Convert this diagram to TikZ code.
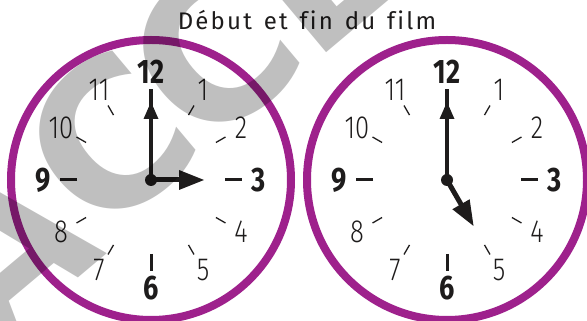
\documentclass[tikz,border=0pt]{standalone}
\usepackage{fontspec}
\setmainfont{Fira Sans}
\newfontfamily\titlefont{Fira Sans}[LetterSpace=9, WordSpace=1.4, Ligatures=NoCommon]
\newfontfamily\boldnumfont{Fira Sans}[FakeStretch=0.8]
\newfontfamily\thinnumfont{Fira Sans Light}[FakeStretch=0.8]
\newfontfamily\wmfont{DejaVu Sans}
\usetikzlibrary{calc}
\definecolor{rimpurple}{RGB}{158,33,140}
\definecolor{inkblack}{RGB}{30,28,28}

\begin{document}
\begin{tikzpicture}[x=1pt,y=1pt,
  rim/.style={draw=rimpurple, line width=8pt},
  bignum/.style={font=\fontsize{34}{34}\selectfont\boldnumfont\bfseries, text=inkblack, inner sep=0pt},
  thinnum/.style={font=\fontsize{32}{32}\selectfont\thinnumfont, text=inkblack, inner sep=0pt},
  majtick/.style={line width=3pt, inkblack},
  mintick/.style={line width=1.3pt, inkblack},
  hand/.style={line width=5pt, inkblack},
  wmark/.style={font=\fontsize{200}{200}\selectfont\wmfont\bfseries, opacity=0.25, inner sep=0pt, rotate=40}]
  \useasboundingbox (0,0) rectangle (587,321);
  \clip (0,0) rectangle (587,321);

  % title
  \node[font=\fontsize{24}{24}\selectfont\titlefont, text=inkblack] (title) at (307,301) {Début et fin du film};

  % the two clocks: start 3 o'clock, end 5 o'clock
  \foreach \cx/\hr/\nm in {151/0/start, 447/-60/end} {
    \coordinate (\nm) at (\cx,141);
    \draw[rim] (\nm) circle (140);
    % ticks and numbers
    \foreach \h in {3,6,9,12} {
      \draw[majtick, shift={(\nm)}] (90-30*\h:74) -- (90-30*\h:91);
      \node[bignum] (\nm-\h) at ($(\nm)+(90-30*\h:108)$) {\h};
    }
    \foreach \h in {1,2,4,5,7,8,10,11} {
      \draw[mintick, shift={(\nm)}] (90-30*\h:75) -- (90-30*\h:86);
      \node[thinnum] (\nm-\h) at ($(\nm)+(90-30*\h:104)$) {\h};
    }
    % minute hand
    \draw[hand, line width=4.5pt] (\nm) -- ++(90:91);
    \fill[inkblack, shift={(\nm)}, rotate=90] (78,0) -- (61,7.5) -- (61,-7.5) -- cycle;
    % hour hand
    \draw[hand, shift={(\nm)}] (0,0) -- (\hr:32);
    \fill[inkblack, shift={(\nm)}, rotate=\hr] (53,0) -- (28,10) -- (28,-10) -- cycle;
    \fill[inkblack] (\nm) circle (6);
  }

  % watermark
  \foreach \l/\wx/\wy [count=\i] in {A/2/74, C/108/181, C/212/268, E/318/356}
    \node[wmark] (wm\i) at (\wx,\wy) {\l};
\end{tikzpicture}
\end{document}
